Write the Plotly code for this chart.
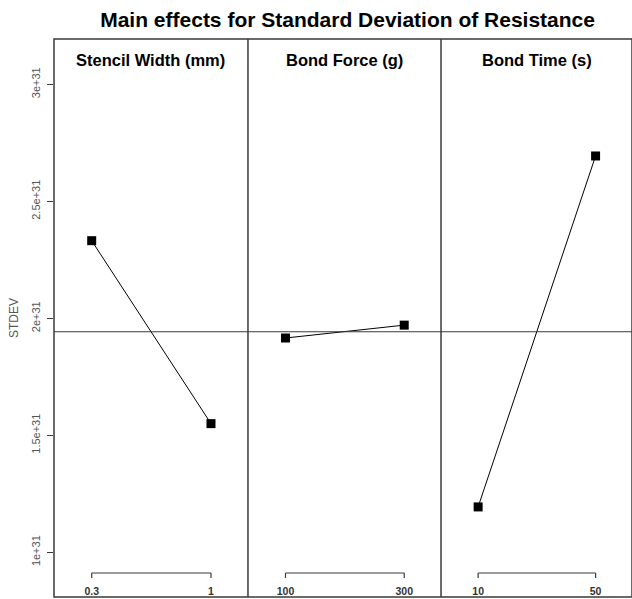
import plotly.graph_objects as go
import numpy as np

factors = ["Stencil Width (mm)", "Bond Force (g)", "Bond Time (s)"]
levels = [["0.3", "1"], ["100", "300"], ["10", "50"]]
stdev_means = [[2.332e31, 1.550e31], [1.916e31, 1.971e31], [1.194e31, 2.694e31]]
y_ticks = [1e31, 1.5e31, 2e31, 2.5e31, 3e31]
y_tick_labels = ["1e+31", "1.5e+31", "2e+31", "2.5e+31", "3e+31"]
title = "Main effects for Standard Deviation of Resistance"
y_title = "STDEV"

grand_mean = float(np.mean([v for s in stdev_means for v in s]))

fig = go.Figure()
frame = "#3a3a3a"
n = len(factors)
edges = [0, 0.3356, 0.6696, 1.0]
for i in range(n):
    xa = "x" if i == 0 else f"x{i+1}"
    ya = "y" if i == 0 else f"y{i+1}"
    fig.add_trace(go.Scatter(
        x=levels[i], y=stdev_means[i], mode="lines+markers",
        line=dict(color="black", width=1),
        marker=dict(symbol="square", size=9, color="black"),
        xaxis=xa, yaxis=ya, showlegend=False, cliponaxis=False))
    xkey = "xaxis" if i == 0 else f"xaxis{i+1}"
    ykey = "yaxis" if i == 0 else f"yaxis{i+1}"
    fig.layout[xkey] = dict(
        domain=[edges[i], edges[i + 1]], anchor=ya, type="category",
        categoryorder="array", categoryarray=levels[i],
        range=[-0.316, 1.31], showgrid=False, zeroline=False,
        showline=False, ticks="", ticklabelposition="inside",
        ticklabelstandoff=-3,
        tickfont=dict(family="Liberation Sans", size=10.5, color="#333", weight="bold"))
    ydict = dict(
        domain=[0, 1], anchor=xa, range=[0.809e31, 3.194e31],
        showgrid=False, zeroline=False, showline=False)
    if i == 0:
        ydict.update(tickvals=y_ticks, ticktext=y_tick_labels, ticks="outside",
                     ticklen=6, tickcolor=frame, tickwidth=1.2, tickangle=-90,
                     ticklabelstandoff=3,
                     tickfont=dict(family="Liberation Sans", size=11, color="#555"),
                     title=dict(text=y_title, standoff=8,
                                font=dict(family="Liberation Sans", size=12, color="#555")))
    else:
        ydict.update(showticklabels=False, ticks="", matches="y")
    fig.layout[ykey] = ydict

    # strip header
    fig.add_annotation(text=f"<b>{factors[i]}</b>", xref=f"{xa} domain", yref=f"{ya} domain",
                       x=0.5, y=0.963, xanchor="center", yanchor="middle", showarrow=False,
                       font=dict(family="Liberation Sans", size=16.5, color="black"))
    # bracket axis (R-style)
    by, bt = 0.043, 0.034
    fig.add_shape(type="line", xref=xa, yref=f"{ya} domain", x0=0, x1=1, y0=by, y1=by,
                  line=dict(color=frame, width=1.2))
    for k in range(2):
        fig.add_shape(type="line", xref=xa, yref=f"{ya} domain", x0=k, x1=k, y0=by, y1=bt,
                      line=dict(color=frame, width=1.2))

# outer frame and panel dividers
fig.add_shape(type="rect", xref="paper", yref="paper", x0=0, x1=1, y0=0, y1=1,
              line=dict(color=frame, width=1.5))
for i in range(1, n):
    fig.add_shape(type="line", xref="paper", yref="paper", x0=edges[i], x1=edges[i], y0=0, y1=1,
                  line=dict(color=frame, width=1.5))

# grand mean line
fig.add_shape(type="line", xref="paper", yref="y", x0=0, x1=1, y0=grand_mean, y1=grand_mean,
              line=dict(color=frame, width=1.2))

fig.update_layout(
    width=632, height=599,
    margin=dict(l=54, r=0, t=39, b=2),
    paper_bgcolor="white", plot_bgcolor="white",
    title=dict(text=f"<b>{title}</b>", x=0.55, xanchor="center", y=0.9674, yanchor="middle",
               font=dict(family="Liberation Sans", size=21, color="black")),
)

fig.write_html("out.html", config={"displayModeBar": False},
               post_script="document.body.style.margin='0px';document.body.style.overflow='hidden';")
